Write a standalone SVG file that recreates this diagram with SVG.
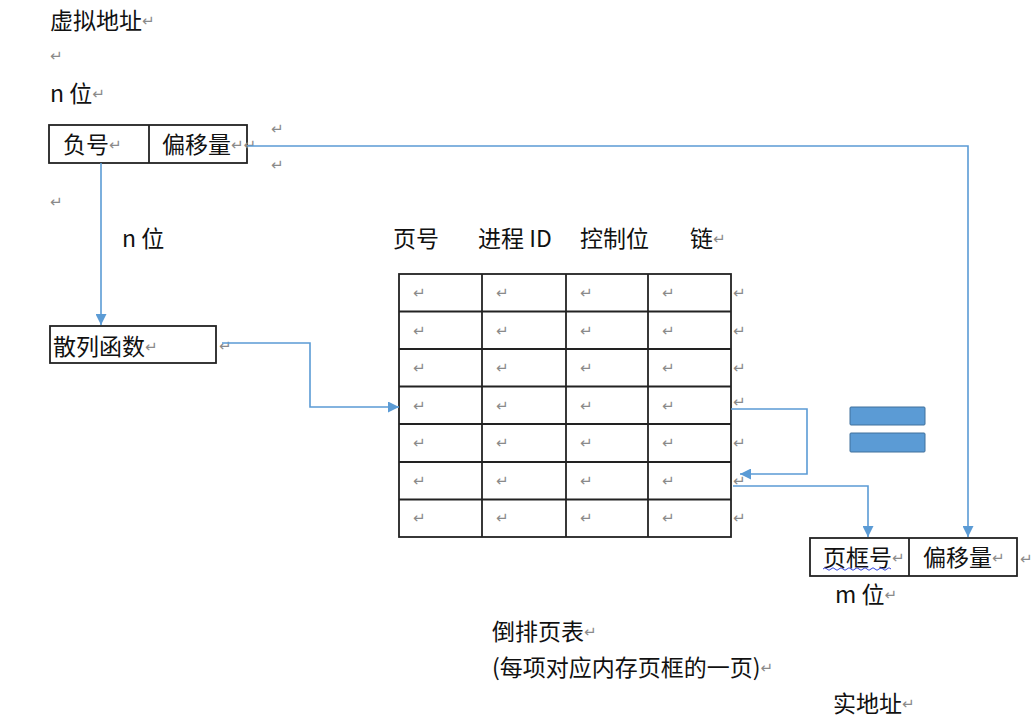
<svg xmlns="http://www.w3.org/2000/svg" width="1035" height="720" viewBox="0 0 1035 720">
<defs>
<style>
.t{font-family:"Noto Sans CJK SC","Liberation Sans",sans-serif;font-size:23px;fill:#111}
.m{font-family:"DejaVu Sans",sans-serif;font-size:15px;fill:#8a8a8a}
.box{fill:#fff;stroke:#222;stroke-width:1.8}
.ln{fill:none;stroke:#222;stroke-width:1.8}
.c{fill:none;stroke:#5B9BD5;stroke-width:1.6}
.eq{fill:#5B9BD5;stroke:#41719C;stroke-width:1}
</style>
<marker id="ahb" viewBox="0 0 10 10" refX="10" refY="5" markerWidth="11" markerHeight="11" markerUnits="userSpaceOnUse" orient="auto">
<path d="M0,0 L10,5 L0,10 z" fill="#5B9BD5"/>
</marker>
</defs>
<rect width="1035" height="720" fill="#fff"/>

<g id="labels">
<text class="t" x="50" y="29">虚拟地址<tspan class="m" dy="-3">↵</tspan></text>
<text class="m" x="50" y="61">↵</text>
<text class="t" x="50" y="102">n 位<tspan class="m" dy="-3">↵</tspan></text>
<text class="m" x="271" y="134">↵</text>
<text class="m" x="271" y="170">↵</text>
<text class="m" x="50" y="207">↵</text>
<text class="t" x="122" y="247">n 位</text>
</g>

<g id="virtual-address">
<rect class="box" x="49" y="125" width="198" height="38"/>
<line class="ln" x1="149" y1="125" x2="149" y2="163"/>
<text class="t" x="63" y="153">负号<tspan class="m" dy="-3">↵</tspan></text>
<text class="t" x="162" y="153">偏移量<tspan class="m" dy="-3">↵↵</tspan></text>
</g>

<g id="hash-function">
<rect class="box" x="50" y="326" width="166" height="37"/>
<text class="t" x="53" y="355">散列函数<tspan class="m" dy="-3">↵</tspan></text>
<text class="m" x="219" y="351">↵</text>
</g>

<g id="inverted-page-table">
<text class="t" x="393" y="247">页号</text>
<text class="t" x="478" y="247">进程 ID</text>
<text class="t" x="580" y="247">控制位</text>
<text class="t" x="690" y="247">链<tspan class="m" dy="-3">↵</tspan></text>
<rect class="box" x="399" y="274" width="332" height="263"/>
<g class="ln">
<line x1="482" y1="274" x2="482" y2="537"/>
<line x1="566" y1="274" x2="566" y2="537"/>
<line x1="648" y1="274" x2="648" y2="537"/>
<line x1="399" y1="311.5" x2="731" y2="311.5"/>
<line x1="399" y1="349" x2="731" y2="349"/>
<line x1="399" y1="386.5" x2="731" y2="386.5"/>
<line x1="399" y1="424" x2="731" y2="424"/>
<line x1="399" y1="462" x2="731" y2="462"/>
<line x1="399" y1="499.5" x2="731" y2="499.5"/>
</g>
<g class="m">
<text x="413" y="298">↵</text><text x="496" y="298">↵</text><text x="580" y="298">↵</text><text x="662" y="298">↵</text><text x="733" y="298">↵</text>
<text x="413" y="336">↵</text><text x="496" y="336">↵</text><text x="580" y="336">↵</text><text x="662" y="336">↵</text><text x="733" y="336">↵</text>
<text x="413" y="373">↵</text><text x="496" y="373">↵</text><text x="580" y="373">↵</text><text x="662" y="373">↵</text><text x="733" y="373">↵</text>
<text x="413" y="411">↵</text><text x="496" y="411">↵</text><text x="580" y="411">↵</text><text x="662" y="411">↵</text><text x="733" y="407">↵</text>
<text x="413" y="448">↵</text><text x="496" y="448">↵</text><text x="580" y="448">↵</text><text x="662" y="448">↵</text><text x="733" y="448">↵</text>
<text x="413" y="486">↵</text><text x="496" y="486">↵</text><text x="580" y="486">↵</text><text x="662" y="486">↵</text><text x="733" y="486">↵</text>
<text x="413" y="523">↵</text><text x="496" y="523">↵</text><text x="580" y="523">↵</text><text x="662" y="523">↵</text><text x="733" y="523">↵</text>
</g>
<text class="t" x="492" y="640">倒排页表<tspan class="m" dy="-3">↵</tspan></text>
<text class="t" x="492" y="676">(每项对应内存页框的一页)<tspan class="m" dy="-3">↵</tspan></text>
</g>

<g id="equals">
<rect class="eq" x="850" y="407" width="75" height="18" rx="1"/>
<rect class="eq" x="850" y="433" width="75" height="19" rx="1"/>
</g>

<g id="real-address">
<rect class="box" x="810" y="538" width="207" height="38"/>
<line class="ln" x1="909" y1="538" x2="909" y2="576"/>
<text class="t" x="823" y="566">页框号<tspan class="m" dy="-3">↵</tspan></text>
<path d="M823,569 q2,-2.5 4,0 t4,0 t4,0 t4,0 t4,0 t4,0 t4,0 t4,0 t4,0 t4,0 t4,0 t4,0 t4,0 t4,0 t4,0 t4,0 t4,0" fill="none" stroke="#3344dd" stroke-width="1"/>
<text class="t" x="923" y="566">偏移量<tspan class="m" dy="-3">↵</tspan></text>
<text class="m" x="1020" y="564">↵</text>
<text class="t" x="835" y="603">m 位<tspan class="m" dy="-3">↵</tspan></text>
<text class="t" x="833" y="712">实地址<tspan class="m" dy="-3">↵</tspan></text>
</g>

<g id="connectors">
<path class="c" d="M101,163 L101,325" marker-end="url(#ahb)"/>
<path class="c" d="M247,146 L968,146 L968,537" marker-end="url(#ahb)"/>
<path class="c" d="M222,343 L310,343 L310,407 L399,407" marker-end="url(#ahb)"/>
<path class="c" d="M731,409 L807,409 L807,474 L740,474" marker-end="url(#ahb)"/>
<path class="c" d="M733,486 L868,486 L868,537" marker-end="url(#ahb)"/>
</g>
</svg>
